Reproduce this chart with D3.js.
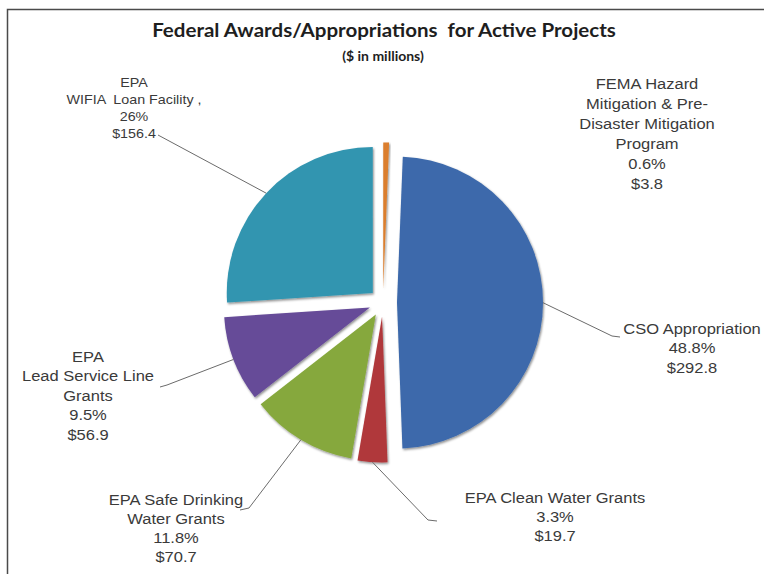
<!DOCTYPE html>
<html><head><meta charset="utf-8">
<script src="https://cdn.jsdelivr.net/npm/d3@7"></script>
<style>body{margin:0;background:#fff} svg{display:block}</style>
</head><body>
<svg id="chart" width="764" height="574"></svg>
<script>
// ---- data ----
const categories = ["FEMA Hazard Mitigation & Pre-Disaster Mitigation Program", "CSO Appropriation", "EPA Clean Water Grants", "EPA Safe Drinking Water Grants", "EPA Lead Service Line Grants", "EPA WIFIA Loan Facility"];
const values = [3.8, 292.8, 19.7, 70.7, 56.9, 156.4];
const percentLabels = ["0.6%", "48.8%", "3.3%", "11.8%", "9.5%", "26%"];
const nameLines = [
  ["FEMA Hazard", "Mitigation & Pre-", "Disaster Mitigation", "Program"],
  ["CSO Appropriation"],
  ["EPA Clean Water Grants"],
  ["EPA Safe Drinking", "Water Grants"],
  ["EPA", "Lead Service Line", "Grants"],
  ["EPA", "WIFIA  Loan Facility ,"]
];
const title = "Federal Awards/Appropriations  for Active Projects";
const subtitle = "($ in millions)";

// ---- styles / layout ----
const colors = ["#ea8630", "#4070b6", "#bc3c3e", "#8fb340", "#6d50a2", "#349fbc"];
const W = 764, H = 574;
const cx = 383, cy = 302.5, R = 146, explode = 14;
const labelPos = [
  {x: 647, y: 89, dy: 20, fs: 15, leader: null},
  {x: 692, y: 334, dy: 19.5, fs: 15, leader: [[612, 336], [620, 337]]},
  {x: 555, y: 503, dy: 19, fs: 15, leader: [[428, 520], [437, 521]]},
  {x: 176, y: 505, dy: 19, fs: 15, leader: [[249, 508], [240, 510]]},
  {x: 88, y: 362, dy: 19.5, fs: 15, leader: [[167, 385], [160, 387]]},
  {x: 134, y: 87, dy: 17, fs: 13, leader: [[158, 135]]}
];

const svg = d3.select("#chart");
svg.append("rect").attr("width", W).attr("height", H).attr("fill", "#fff");
// frame
svg.append("path").attr("d", `M7.5,${H}V9.5H${W}`).attr("fill", "none").attr("stroke", "#4a4a4a").attr("stroke-width", 1.5);

const defs = svg.append("defs");
const f = defs.append("filter").attr("id", "sh").attr("x", "-10%").attr("y", "-10%").attr("width", "130%").attr("height", "130%");
f.append("feDropShadow").attr("dx", 1).attr("dy", 1.5).attr("stdDeviation", 1.2).attr("flood-color", "#000").attr("flood-opacity", 0.45);

colors.forEach((c, i) => {
  const g = defs.append("radialGradient").attr("id", "g" + i)
    .attr("gradientUnits", "userSpaceOnUse").attr("cx", cx - 40).attr("cy", cy - 60).attr("r", R * 1.6);
  g.append("stop").attr("offset", "0%").attr("stop-color", d3.color(c).brighter(0.12));
  g.append("stop").attr("offset", "100%").attr("stop-color", d3.color(c).darker(0.18));
});

const pie = d3.pie().sort(null).startAngle(0).endAngle(2 * Math.PI)(values);
const arc = d3.arc().innerRadius(0).outerRadius(R);

function offset(d) {
  const m = (d.startAngle + d.endAngle) / 2;
  return [explode * Math.sin(m), -explode * Math.cos(m)];
}

const gp = svg.append("g").attr("transform", `translate(${cx},${cy})`);
gp.selectAll("path.slice").data(pie).join("path")
  .attr("class", "slice")
  .attr("transform", d => { const o = offset(d); return `translate(${o[0]},${o[1]})`; })
  .attr("d", arc)
  .attr("fill", (d, i) => `url(#g${i})`)
  .attr("filter", "url(#sh)");

// leaders
pie.forEach((d, i) => {
  const lp = labelPos[i];
  if (!lp.leader) return;
  const m = (d.startAngle + d.endAngle) / 2;
  const o = offset(d);
  const ax = cx + o[0] + R * Math.sin(m), ay = cy + o[1] - R * Math.cos(m);
  const pts = [[ax, ay], ...lp.leader];
  svg.append("path").attr("d", d3.line()(pts)).attr("fill", "none")
    .attr("stroke", "#6b6b6b").attr("stroke-width", 1);
});

// labels (slightly wide, as in the reference)
const sx = 1.1;
pie.forEach((d, i) => {
  const lp = labelPos[i];
  const lines = [...nameLines[i], percentLabels[i], "$" + values[i].toFixed(1)];
  const g = svg.append("g").attr("transform", `translate(${lp.x},0) scale(${sx},1)`);
  const t = g.append("text").attr("text-anchor", "middle")
    .attr("font-family", "'Liberation Sans', Arial, sans-serif").attr("font-size", lp.fs)
    .attr("fill", "#3a3a3a");
  lines.forEach((s, k) => {
    t.append("tspan").attr("x", 0).attr("y", lp.y + k * lp.dy).attr("xml:space", "preserve").text(s);
  });
});

svg.append("g").attr("transform", "translate(384,0) scale(1.11,1)")
  .append("text").attr("x", 0).attr("y", 37).attr("text-anchor", "middle")
  .attr("font-family", "Lato, 'Open Sans', sans-serif").attr("font-weight", "bold").attr("font-size", 18.5)
  .attr("fill", "#1e1e1e").attr("xml:space", "preserve").text(title);
svg.append("text").attr("x", 383).attr("y", 61).attr("text-anchor", "middle")
  .attr("font-family", "Lato, 'Open Sans', sans-serif").attr("font-weight", "bold").attr("font-size", 14)
  .attr("fill", "#1e1e1e").text(subtitle);
</script>
</body></html>
